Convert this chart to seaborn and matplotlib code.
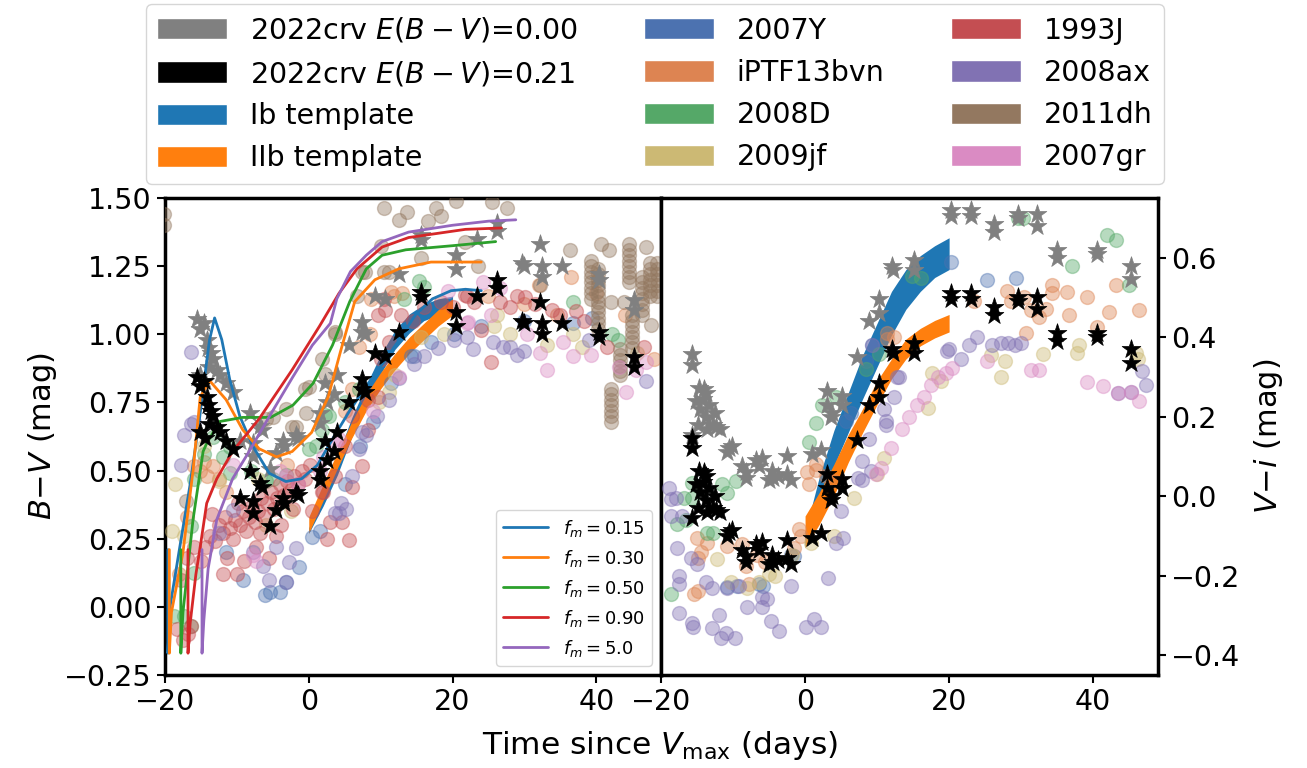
import numpy as np
import pandas as pd
import matplotlib
matplotlib.use('Agg')
import matplotlib.pyplot as plt
import seaborn as sns
from matplotlib.patches import Patch

sns.set_style('ticks', {'axes.edgecolor': 'black', 'text.color': 'black', 'axes.labelcolor': 'black',
                        'xtick.color': 'black', 'ytick.color': 'black'})
plt.rcParams['font.family'] = ['DejaVu Sans']
plt.rcParams['mathtext.fontset'] = 'dejavusans'

# ---- 2022crv colours (stars) ----
CRV21_BV = [(-15.6, 0.845), (-15.1, 0.81), (-14.6, 0.83), (-14.2, 0.77), (-14.0, 0.74), (-13.6, 0.72),
            (-13.3, 0.70), (-12.8, 0.66), (-15.1, 0.64), (-14.5, 0.62), (-13.9, 0.67), (-12.3, 0.64),
            (-11.5, 0.61), (-10.5, 0.58), (-8.2, 0.50), (-9.5, 0.40), (-7.8, 0.39), (-7.8, 0.345),
            (-6.8, 0.455), (-6.5, 0.44), (-5.4, 0.295), (-4.6, 0.355), (-3.6, 0.40), (-3.4, 0.38),
            (-1.8, 0.42), (-1.5, 0.41), (1.5, 0.50), (1.5, 0.465), (2.6, 0.54), (3.5, 0.57), (2.3, 0.61),
            (3.9, 0.64), (5.6, 0.75), (7.4, 0.80), (7.4, 0.835), (7.8, 0.79), (9.2, 0.93), (10.6, 0.92),
            (12.5, 1.01), (15.6, 1.155), (15.6, 1.135), (20.5, 1.08), (20.5, 1.03), (23.4, 1.14),
            (26.2, 1.20), (26.2, 1.17), (29.7, 1.05), (29.9, 1.04), (32.1, 1.12), (32.4, 1.04),
            (32.4, 1.00), (35.2, 1.04), (40.4, 1.01), (40.4, 0.99), (45.2, 0.915), (45.2, 0.88)]
CRV00_BV = [(-15.6, 1.055), (-15.1, 1.02), (-14.6, 1.04), (-14.2, 0.98), (-14.0, 0.95), (-13.6, 0.93),
            (-13.3, 0.91), (-12.8, 0.87), (-15.1, 0.85), (-14.5, 0.83), (-13.9, 0.88), (-12.3, 0.85),
            (-11.5, 0.82), (-10.5, 0.79), (-8.2, 0.71), (-9.5, 0.61), (-7.8, 0.60), (-7.8, 0.555),
            (-6.8, 0.665), (-6.5, 0.65), (-5.4, 0.505), (-4.6, 0.565), (-3.6, 0.61), (-3.4, 0.59),
            (-1.8, 0.63), (-1.5, 0.62), (1.5, 0.71), (1.5, 0.675), (2.6, 0.75), (3.5, 0.78), (2.3, 0.82),
            (3.9, 0.85), (5.6, 0.96), (7.4, 1.01), (7.4, 1.045), (7.8, 1.00), (9.2, 1.14), (10.6, 1.13),
            (12.5, 1.22), (15.6, 1.365), (15.6, 1.345), (20.5, 1.29), (20.5, 1.24), (23.4, 1.35),
            (26.2, 1.41), (26.2, 1.38), (29.7, 1.26), (29.9, 1.25), (32.1, 1.33), (32.4, 1.25),
            (32.4, 1.21), (35.2, 1.25), (40.4, 1.22), (40.4, 1.20), (45.2, 1.125), (45.2, 1.09)]
CRV21_VI = [(-15.7, 0.147), (-15.7, 0.12), (-14.7, 0.063), (-13.8, 0.05), (-15.1, 0.03), (-14.6, 0.01),
            (-14.2, 0.035), (-13.8, -0.01), (-13.3, 0.02), (-12.8, -0.03), (-12.3, -0.035), (-11.8, -0.04),
            (-14.9, -0.03), (-13.6, -0.04), (-12.5, 0.0), (-14.0, 0.06), (-15.7, -0.055), (-10.6, -0.09),
            (-10.2, -0.085), (-10.8, -0.10), (-8.8, -0.135), (-8.2, -0.15), (-8.2, -0.165), (-6.8, -0.12),
            (-6.0, -0.115), (-6.4, -0.135), (-4.6, -0.147), (-4.4, -0.165), (-5.0, -0.17), (-3.8, -0.16),
            (-2.5, -0.11), (-2.5, -0.155), (-2.0, -0.17), (1.0, -0.105), (2.2, -0.093), (3.1, 0.055),
            (3.1, 0.02), (3.8, 0.0), (3.6, -0.01), (5.1, 0.043), (5.1, 0.02), (7.2, 0.14), (8.9, 0.23),
            (10.3, 0.25), (10.3, 0.285), (12.1, 0.37), (12.2, 0.36), (15.1, 0.385), (15.1, 0.36),
            (20.3, 0.51), (20.3, 0.495), (23.0, 0.51), (23.0, 0.495), (26.3, 0.475), (26.3, 0.455),
            (29.5, 0.50), (29.5, 0.49), (32.2, 0.50), (32.2, 0.47), (35.0, 0.41), (35.0, 0.39),
            (40.6, 0.41), (40.6, 0.40), (45.3, 0.37), (45.3, 0.335)]
CRV00_VI = [(-15.7, 0.357), (-15.7, 0.33), (-14.7, 0.273), (-13.8, 0.26), (-15.1, 0.24), (-14.6, 0.22),
            (-14.2, 0.245), (-13.8, 0.20), (-13.3, 0.23), (-12.8, 0.18), (-12.3, 0.175), (-11.8, 0.17),
            (-14.9, 0.18), (-13.6, 0.17), (-12.5, 0.21), (-14.0, 0.27), (-15.7, 0.155), (-10.6, 0.12),
            (-10.2, 0.125), (-10.8, 0.11), (-8.8, 0.075), (-8.2, 0.06), (-8.2, 0.045), (-6.8, 0.09),
            (-6.0, 0.095), (-6.4, 0.075), (-4.6, 0.063), (-4.4, 0.045), (-5.0, 0.04), (-3.8, 0.05),
            (-2.5, 0.10), (-2.5, 0.055), (-2.0, 0.04), (1.0, 0.105), (2.2, 0.117), (3.1, 0.265),
            (3.1, 0.23), (3.8, 0.21), (3.6, 0.20), (5.1, 0.253), (5.1, 0.23), (7.2, 0.35), (8.9, 0.44),
            (10.3, 0.46), (10.3, 0.495), (12.1, 0.58), (12.2, 0.57), (15.1, 0.595), (15.1, 0.57),
            (20.3, 0.72), (20.3, 0.705), (23.0, 0.72), (23.0, 0.705), (26.3, 0.685), (26.3, 0.665),
            (29.5, 0.71), (29.5, 0.70), (32.2, 0.71), (32.2, 0.68), (35.0, 0.62), (35.0, 0.60),
            (40.6, 0.62), (40.6, 0.61), (45.3, 0.58), (45.3, 0.545)]

# ---- comparison SNe, B-V ----
SN2007Y_BV = [(-11.5, 0.20), (-9.1, 0.10), (-6.1, 0.045), (-5.4, 0.055), (-4.0, 0.055), (-3.2, 0.09),
              (-1.3, 0.148), (0.5, 0.255), (1.5, 0.28), (5.0, 0.45), (7.1, 0.59), (9.0, 0.68), (11.5, 0.82),
              (14.2, 0.92), (14.7, 0.92), (17.0, 0.97), (20.2, 1.0), (24.0, 1.03), (30.0, 1.05),
              (36.7, 1.04), (39.4, 1.06)]
IPTF13BVN_BV = [(-18.0, 0.12), (-17.0, 0.33), (-16.0, 0.515), (-15.2, 0.50), (-14.2, 0.48), (-14.6, 0.53),
                (-13.3, 0.515), (-12.5, 0.47), (-11.5, 0.42), (-3.0, 0.52), (5.0, 0.72), (6.0, 0.80),
                (7.0, 0.955), (8.5, 1.0), (8.7, 1.13), (11.5, 1.155), (11.9, 1.14), (13.0, 1.15),
                (25.0, 1.14), (30.0, 1.11), (32.0, 1.18), (34.5, 1.07), (36.5, 1.21), (40.0, 1.15),
                (44.0, 1.07), (48.0, 0.91)]
SN2008D_BV = [(-18.8, -0.035), (-17.4, -0.035), (-16.4, -0.07), (-16.4, 0.295), (-16.0, 0.125), (-16.0, 0.47),
              (-14.6, 0.56), (-13.3, 0.625), (-12.0, 0.55), (-10.9, 0.585), (-10.9, 0.49), (-8.0, 0.50),
              (-6.0, 0.46), (-5.0, 0.47), (-3.2, 0.485), (0.1, 0.58), (1.0, 0.59), (1.9, 0.65), (2.3, 0.705),
              (2.8, 0.70), (5.0, 0.75), (7.0, 0.80), (13.3, 1.13), (15.4, 1.195), (16.0, 1.175),
              (36.7, 1.12), (42.2, 1.0), (43.0, 0.98)]
SN2009JF_BV = [(-19.0, 0.28), (-18.6, 0.45), (-17.4, 0.26), (-14.6, 0.59), (-12.5, 0.46), (-7.0, 0.47),
               (-6.0, 0.30), (-2.5, 0.35), (9.8, 0.75), (11.2, 0.79), (12.0, 0.85), (15.6, 0.99), (18.8, 1.0),
               (25.7, 1.03), (26.2, 1.07), (28.0, 1.0), (33.1, 0.96), (36.7, 1.0), (38.0, 0.955), (45.6, 0.93)]
SN1993J_BV = [(-18.3, -0.08), (-17.5, -0.12), (-16.8, -0.10), (-16.4, -0.07), (-17.8, 0.10), (-17.0, 0.18),
              (-16.0, 0.22), (-15.0, 0.17), (-14.3, 0.22), (-13.8, 0.26), (-13.0, 0.24), (-12.5, 0.30),
              (-12.0, 0.27), (-11.6, 0.33), (-11.0, 0.29), (-10.5, 0.25), (-10.2, 0.32), (-9.6, 0.30),
              (-9.2, 0.35), (-8.7, 0.28), (-8.3, 0.33), (-7.9, 0.37), (-7.5, 0.31), (-7.0, 0.35),
              (-6.6, 0.40), (-6.2, 0.33), (-5.8, 0.38), (-5.3, 0.42), (-4.8, 0.36), (-4.4, 0.40),
              (-4.0, 0.45), (-3.5, 0.41), (-3.0, 0.46), (-2.5, 0.43), (-2.0, 0.48), (-1.5, 0.45),
              (-1.0, 0.50), (-0.5, 0.47), (0.2, 0.52), (-12.0, 0.12), (-10.0, 0.12), (-9.0, 0.17),
              (-7.3, 0.22), (-5.5, 0.18), (-4.5, 0.26), (-11.4, 0.18), (-13.5, 0.34), (-9.8, 0.38),
              (-6.8, 0.27), (-3.8, 0.30), (-2.2, 0.36), (0.5, 0.35), (2.5, 0.25), (2.0, 0.42), (3.0, 0.31),
              (5.6, 0.245), (4.6, 0.31), (1.9, 0.42), (3.7, 0.48), (5.1, 0.59), (6.0, 0.70), (6.0, 0.44),
              (7.4, 0.515), (8.3, 0.76), (8.3, 0.65), (9.7, 0.77), (10.1, 0.91), (11.1, 0.97), (10.6, 1.09),
              (12.9, 1.07), (14.5, 1.05), (16.0, 1.10), (18.4, 1.12), (20.0, 1.10), (22.0, 1.14),
              (23.0, 1.12), (21.8, 1.145), (26.6, 1.12), (28.0, 1.10), (29.0, 1.14), (30.1, 1.135),
              (31.5, 1.11), (33.8, 1.09), (34.9, 1.07), (37.2, 1.085), (38.3, 1.05), (41.5, 0.955),
              (46.7, 0.955), (23.9, 1.015), (25.3, 0.90), (10.5, 1.13), (9.7, 1.07)]
SN2008AX_BV = [(-17.8, 0.52), (-16.4, 0.935), (-16.4, 0.67), (-16.0, 0.68), (-17.4, 0.63), (-12.5, 0.27),
               (-10.5, 0.355), (-7.8, 0.20), (-6.4, 0.15), (-5.6, 0.10), (-4.6, 0.22), (-3.2, 0.09),
               (-2.7, 0.165), (-1.8, 0.215), (3.7, 0.345), (4.2, 0.345), (4.5, 0.38), (5.2, 0.36),
               (6.0, 0.48), (7.0, 0.58), (7.4, 0.64), (8.0, 0.63), (9.5, 0.70), (11.1, 0.76), (12.5, 0.84),
               (14.7, 0.89), (16.0, 0.92), (18.0, 0.95), (20.2, 0.98), (22.0, 0.99), (22.9, 0.945),
               (25.6, 0.97), (27.0, 0.955), (28.0, 0.955), (28.9, 0.925), (30.0, 0.94), (39.0, 0.98),
               (46.9, 0.83)]
SN2011DH_BV = [(-20.2, 1.44), (-20.2, 1.40), (-17.1, 0.39), (-6.0, 0.69), (-5.0, 0.695), (-3.2, 0.725),
               (-2.3, 0.66), (-1.8, 0.66), (-0.5, 0.80), (-0.4, 0.71), (0.1, 0.805), (1.9, 0.91), (2.3, 0.855),
               (3.7, 1.0), (3.7, 1.01), (6.7, 1.14), (7.4, 1.23), (7.8, 1.23), (10.1, 1.325), (10.5, 1.23),
               (10.5, 1.465), (11.1, 1.23), (12.6, 1.42), (13.6, 1.45), (15.6, 1.28), (16.6, 1.415),
               (17.7, 1.465), (18.4, 1.435), (20.5, 1.49), (21.8, 1.34), (23.6, 1.25), (25.5, 1.485),
               (27.6, 1.465), (32.1, 1.18), (36.3, 1.31), (40.7, 1.33), (41.8, 1.31), (42.0, 1.12),
               (43.8, 1.12), (46.9, 1.32), (47.6, 1.035),
               (39.3, 1.27), (39.3, 1.25), (39.3, 1.23), (39.3, 1.21), (39.3, 1.19), (39.3, 1.17),
               (39.3, 1.15), (39.3, 1.13),
               (40.3, 1.24), (40.3, 1.22), (40.3, 1.20), (40.3, 1.18), (40.3, 1.16), (40.3, 1.14),
               (40.3, 1.12), (40.3, 1.10), (40.3, 1.08), (40.3, 1.06), (40.3, 1.04), (40.3, 1.02),
               (44.6, 1.33), (44.6, 1.31), (44.6, 1.29), (44.6, 1.27), (44.6, 1.25), (44.6, 1.23),
               (44.6, 1.21), (44.6, 1.19),
               (44.9, 1.07), (44.9, 1.05), (44.9, 1.03), (44.9, 1.01), (44.9, 0.99), (44.9, 0.97),
               (44.9, 0.95),
               (42.1, 0.80), (42.1, 0.78), (42.1, 0.76), (42.1, 0.74), (42.1, 0.72), (42.1, 0.70),
               (42.1, 0.68),
               (43.3, 0.945), (43.3, 0.925), (43.3, 0.905), (43.3, 0.885), (43.3, 0.865), (43.3, 0.85),
               (46.3, 1.21), (46.3, 1.19), (46.3, 1.17), (46.3, 1.15), (46.3, 1.13), (46.3, 1.11),
               (46.3, 1.09), (46.3, 1.07),
               (47.5, 1.26), (47.5, 1.24), (47.5, 1.22), (47.5, 1.20), (47.5, 1.18), (47.5, 1.16),
               (47.5, 1.14),
               (48.4, 1.26), (48.4, 1.24), (48.4, 1.22), (48.4, 1.20), (48.4, 1.18), (48.4, 1.16),
               (48.4, 1.14)]
SN2007GR_BV = [(-10.5, 0.52), (-7.8, 0.19), (-7.3, 0.17), (-4.0, 0.50), (-3.2, 0.48), (-1.5, 0.45),
               (1.5, 0.50), (2.0, 0.55), (3.8, 0.60), (4.2, 0.615), (9.0, 0.72), (12.5, 0.845), (19.3, 1.16),
               (22.0, 1.04), (22.2, 1.045), (24.2, 1.19), (25.3, 1.07), (26.6, 1.17), (30.3, 1.0),
               (32.1, 0.93), (33.1, 0.87), (35.3, 0.97), (36.7, 0.92), (39.3, 0.925), (43.1, 0.88),
               (44.1, 0.79), (45.5, 0.87), (46.9, 0.90)]

# ---- comparison SNe, V-i ----
SN2007Y_VI = [(-10.8, -0.228), (-9.5, -0.225), (-6.4, -0.22), (-5.8, -0.225), (-2.0, -0.147), (-1.5, -0.15),
              (5.7, 0.19), (6.4, 0.21), (8.5, 0.34), (9.3, 0.38), (20.3, 0.588), (25.3, 0.543), (29.3, 0.55)]
IPTF13BVN_VI = [(-15.4, -0.245), (-14.8, -0.238), (-15.0, -0.105), (-14.5, -0.14), (-14.8, -0.155),
                (-13.6, -0.118), (-10.8, -0.125), (-8.8, -0.12), (-8.2, -0.177), (-7.8, -0.222),
                (-6.7, -0.147), (-5.5, -0.165), (-1.5, -0.13), (-0.8, -0.083), (-0.6, -0.10), (0.3, 0.06),
                (0.6, 0.03), (1.5, 0.08), (1.5, 0.065), (2.9, 0.05), (4.0, 0.038), (11.4, 0.41), (12.3, 0.40),
                (11.4, 0.395), (23.5, 0.49), (28.0, 0.517), (28.6, 0.492), (30.4, 0.50), (30.7, 0.41),
                (31.4, 0.467), (32.5, 0.45), (33.5, 0.47), (34.3, 0.53), (34.3, 0.51), (36.4, 0.513),
                (36.7, 0.455), (39.2, 0.50), (40.6, 0.425), (42.2, 0.462), (43.2, 0.53), (46.4, 0.467)]
SN2008D_VI = [(-18.6, -0.245), (-17.8, -0.07), (-16.8, -0.005), (-16.5, -0.06), (-15.7, 0.033),
              (-15.7, -0.005), (-13.6, -0.093), (-12.8, -0.093), (-11.5, 0.03), (-10.8, 0.008), (-9.6, 0.038),
              (0.6, 0.135), (1.5, 0.185), (2.4, 0.23), (4.3, 0.25), (8.5, 0.32), (10.3, 0.357), (14.9, 0.555),
              (16.1, 0.55), (29.5, 0.70), (30.2, 0.70), (37.1, 0.58), (41.9, 0.657), (43.2, 0.644), (45.0, 0.53)]
SN2009JF_VI = [(-12.2, -0.157), (-10.3, -0.215), (-8.0, -0.232), (-6.4, -0.215), (-5.0, -0.195), (-4.2, -0.2),
               (-1.8, -0.147), (0.8, -0.118), (4.0, -0.10), (6.8, -0.005), (10.0, 0.055), (11.0, 0.097),
               (17.0, 0.222), (17.6, 0.31), (18.9, 0.29), (25.8, 0.354), (27.2, 0.30), (27.8, 0.34),
               (33.0, 0.358), (37.8, 0.36), (38.0, 0.38), (46.0, 0.36), (46.2, 0.345)]
SN2008AX_VI = [(-18.9, 0.02), (-18.6, -0.008), (-17.9, -0.005), (-18.6, -0.05), (-17.1, -0.05), (-17.8, -0.13),
               (-15.9, -0.155), (-15.0, -0.17), (-17.5, -0.20), (-17.5, -0.22), (-13.8, -0.215), (-12.9, -0.23),
               (-10.8, -0.23), (-9.2, -0.227), (-17.5, -0.295), (-15.7, -0.32), (-15.6, -0.33), (-11.9, -0.298),
               (-12.9, -0.333), (-11.7, -0.356), (-11.0, -0.345), (-9.7, -0.356), (-8.0, -0.278), (-6.0, -0.253),
               (-6.0, -0.28), (-5.3, -0.26), (-4.7, -0.313), (-3.6, -0.34), (-2.0, -0.227), (0.1, -0.328),
               (1.3, -0.31), (2.2, -0.33), (3.2, -0.205), (4.3, -0.118), (5.2, -0.105), (5.0, -0.037),
               (7.3, 0.045), (7.9, 0.04), (9.1, 0.063), (7.9, 0.088), (8.9, 0.143), (11.2, 0.18), (11.2, 0.19),
               (11.0, 0.22), (12.3, 0.25), (12.8, 0.30), (13.0, 0.30), (9.3, 0.38), (19.7, 0.365), (20.0, 0.37),
               (21.7, 0.345), (22.8, 0.38), (23.9, 0.40), (26.0, 0.38), (27.2, 0.385), (28.2, 0.385),
               (29.2, 0.38), (30.0, 0.385), (43.4, 0.26), (45.3, 0.262), (46.8, 0.315), (47.4, 0.28)]
SN2007GR_VI = [(9.9, 0.055), (10.5, 0.07), (12.0, 0.12), (13.5, 0.17), (14.4, 0.20), (15.6, 0.23), (16.5, 0.25),
               (17.5, 0.28), (18.4, 0.30), (19.6, 0.31), (20.4, 0.323), (25.3, 0.34), (31.4, 0.318),
               (32.5, 0.318), (39.2, 0.288), (41.4, 0.278), (43.4, 0.26), (45.3, 0.262), (46.4, 0.24)]

# ---- templates (band edges) ----
TPL_T = [0, 2, 4, 6, 8, 10, 12, 14, 16, 18, 20]
IB_BV_LO = [0.27, 0.37, 0.485, 0.625, 0.745, 0.855, 0.945, 1.005, 1.05, 1.07, 1.08]
IB_BV_HI = [0.29, 0.43, 0.555, 0.695, 0.815, 0.925, 1.015, 1.075, 1.11, 1.13, 1.14]
IIB_BV_LO = [0.27, 0.39, 0.51, 0.62, 0.72, 0.80, 0.87, 0.93, 0.98, 1.03, 1.07]
IIB_BV_HI = [0.33, 0.45, 0.57, 0.68, 0.78, 0.86, 0.93, 0.99, 1.04, 1.09, 1.13]
IB_VI_LO = [-0.13, -0.01, 0.075, 0.16, 0.245, 0.325, 0.405, 0.47, 0.515, 0.55, 0.57]
IB_VI_HI = [-0.09, 0.05, 0.165, 0.26, 0.355, 0.435, 0.515, 0.57, 0.605, 0.63, 0.65]
IIB_VI_LO = [-0.13, -0.07, 0.0, 0.085, 0.16, 0.23, 0.295, 0.345, 0.378, 0.398, 0.413]
IIB_VI_HI = [-0.05, 0.01, 0.08, 0.155, 0.22, 0.29, 0.345, 0.395, 0.422, 0.442, 0.457]

# ---- model B-V curves for different f_m ----
FM_015 = [(-19.6, 0.21), (-19.6, -0.17), (-19.3, 0.0), (-18.0, 0.21), (-16.5, 0.45), (-15.2, 0.69),
          (-14.7, 0.80), (-13.8, 0.98), (-13.1, 1.06), (-12.1, 0.98), (-11.0, 0.835), (-9.6, 0.70),
          (-7.8, 0.59), (-5.5, 0.49), (-3.2, 0.46), (-1.0, 0.47), (1.2, 0.52), (3.4, 0.62), (5.7, 0.72),
          (8.0, 0.81), (10.2, 0.89), (12.6, 0.98), (14.8, 1.07), (17.2, 1.13), (19.8, 1.16), (21.8, 1.165),
          (24.0, 1.16)]
FM_030 = [(-19.4, 0.21), (-19.4, -0.17), (-19.1, -0.02), (-17.5, 0.20), (-16.1, 0.50), (-15.1, 0.77),
          (-13.8, 0.83), (-11.5, 0.76), (-9.2, 0.65), (-6.9, 0.58), (-4.5, 0.55), (-2.3, 0.57), (0.4, 0.64),
          (2.7, 0.77), (4.5, 0.945), (6.4, 1.12), (9.2, 1.20), (12.5, 1.24), (17.0, 1.265), (24.0, 1.265)]
FM_050 = [(-17.8, 0.21), (-17.8, -0.17), (-17.5, -0.02), (-16.8, 0.15), (-16.1, 0.32), (-14.7, 0.57),
          (-14.2, 0.60), (-12.4, 0.68), (-9.2, 0.695), (-5.3, 0.695), (-2.2, 0.74), (0.6, 0.82), (3.3, 0.96),
          (5.7, 1.12), (8.0, 1.24), (10.2, 1.29), (13.5, 1.31), (20.0, 1.325), (26.0, 1.34)]
FM_090 = [(-16.8, 0.21), (-16.8, -0.17), (-16.5, -0.06), (-15.7, 0.12), (-15.1, 0.22), (-14.2, 0.38),
          (-12.8, 0.47), (-10.6, 0.57), (-6.9, 0.69), (-2.3, 0.87), (1.5, 1.03), (4.2, 1.15), (6.7, 1.24),
          (10.2, 1.32), (13.9, 1.355), (21.8, 1.385), (26.8, 1.39)]
FM_5 = [(-14.85, 0.21), (-14.85, -0.17), (-14.6, -0.05), (-14.0, 0.14), (-12.8, 0.32), (-10.6, 0.47),
        (-8.3, 0.57), (-5.9, 0.68), (-2.3, 0.84), (0.5, 0.96), (3.0, 1.04), (3.9, 1.13), (5.8, 1.23),
        (8.0, 1.29), (10.2, 1.34), (13.9, 1.375), (20.0, 1.40), (25.0, 1.415), (28.8, 1.42)]

FM_LABELS = [r'$f_m=0.15$', r'$f_m=0.30$', r'$f_m=0.50$', r'$f_m=0.90$', r'$f_m=5.0$']
FM_COLORS = ['tab:blue', 'tab:orange', 'tab:green', 'tab:red', 'tab:purple']

deep = sns.color_palette('deep')
SN_NAMES = ['2007Y', 'iPTF13bvn', '2008D', '2009jf', '1993J', '2008ax', '2011dh', '2007gr']
SN_COLORS = [deep[0], deep[1], deep[2], deep[8], deep[3], deep[4], deep[5], deep[6]]
SN_BV = [SN2007Y_BV, IPTF13BVN_BV, SN2008D_BV, SN2009JF_BV, SN1993J_BV, SN2008AX_BV, SN2011DH_BV, SN2007GR_BV]
SN_VI = [SN2007Y_VI, IPTF13BVN_VI, SN2008D_VI, SN2009JF_VI, None, SN2008AX_VI, None, SN2007GR_VI]


def to_df(points):
    return pd.DataFrame(points, columns=['t', 'c'])


def dots(ax, points, color):
    sns.scatterplot(data=to_df(points), x='t', y='c', color=color, alpha=0.42, s=100,
                    edgecolor=color, linewidth=1, ax=ax, legend=False, zorder=3)


def stars(ax, points, color, z):
    sns.scatterplot(data=to_df(points), x='t', y='c', color=color, marker='*', s=200,
                    edgecolor=color, linewidth=0.5, ax=ax, legend=False, zorder=z)


fig = plt.figure(figsize=(13.07, 7.68), dpi=100)
ax1 = fig.add_axes([165 / 1307, 93 / 768, 496 / 1307, 477 / 768])
ax2 = fig.add_axes([661 / 1307, 93 / 768, 497 / 1307, 477 / 768])

# templates
ax1.fill_between(TPL_T, IB_BV_LO, IB_BV_HI, color='tab:blue', lw=0, zorder=2)
ax1.fill_between(TPL_T, IIB_BV_LO, IIB_BV_HI, color='tab:orange', lw=0, zorder=2)
ax2.fill_between(TPL_T, IB_VI_LO, IB_VI_HI, color='tab:blue', lw=0, zorder=2)
ax2.fill_between(TPL_T, IIB_VI_LO, IIB_VI_HI, color='tab:orange', lw=0, zorder=2)

# comparison SNe
for bv, vi, col in zip(SN_BV, SN_VI, SN_COLORS):
    dots(ax1, bv, col)
    if vi is not None:
        dots(ax2, vi, col)

# 2022crv
stars(ax1, CRV00_BV, 'gray', 4)
stars(ax2, CRV00_VI, 'gray', 4)

# models
for curve, lab, col in zip([FM_015, FM_030, FM_050, FM_090, FM_5], FM_LABELS, FM_COLORS):
    sns.lineplot(data=to_df(curve), x='t', y='c', sort=False, estimator=None, color=col,
                 lw=2, ax=ax1, label=lab, zorder=5)

stars(ax1, CRV21_BV, 'black', 6)
stars(ax2, CRV21_VI, 'black', 6)

ax1.legend(loc='lower right', fontsize=13, framealpha=0.8, borderaxespad=0.5, handlelength=2.5)

ax1.set_xlim(-20, 49)
ax1.set_ylim(-0.25, 1.5)
ax1.set_xticks([-20, 0, 20, 40])
ax1.set_yticks([-0.25, 0.0, 0.25, 0.5, 0.75, 1.0, 1.25, 1.5])
ax1.set_xlabel('')
ax1.set_ylabel(r'$B$$-$$V$ (mag)', fontsize=22)

ax2.set_xlim(-20, 49)
ax2.set_ylim(-0.45, 0.75)
ax2.set_xticks([-20, 0, 20, 40])
ax2.set_yticks([-0.4, -0.2, 0.0, 0.2, 0.4, 0.6])
ax2.yaxis.tick_right()
ax2.yaxis.set_label_position('right')
ax2.set_xlabel('')
ax2.set_ylabel(r'$V$$-$$i$ (mag)', fontsize=22, labelpad=8)

for ax in (ax1, ax2):
    for sp in ax.spines.values():
        sp.set_linewidth(2.5)
        sp.set_color('black')
    ax.tick_params(labelsize=20.5, width=1.5, length=6, direction='out', colors='black')

fig.text(660 / 1307, 1 - 745 / 768, r'Time since $V_{\rm max}$ (days)', ha='center', va='center', fontsize=22.5)

# top legend
handles = [Patch(facecolor='gray', label=r'2022crv $E(B-V)$=0.00'),
           Patch(facecolor='black', label=r'2022crv $E(B-V)$=0.21'),
           Patch(facecolor='tab:blue', label='Ib template'),
           Patch(facecolor='tab:orange', label='IIb template')]
handles += [Patch(facecolor=c, label=n) for n, c in zip(SN_NAMES, SN_COLORS)]
fig.legend(handles=handles, loc='upper center', bbox_to_anchor=(655 / 1307, 0.998), ncol=3,
           fontsize=20.5, handlelength=2.45, handleheight=0.77, columnspacing=2.35, borderaxespad=0.1)

fig.savefig('out.png', dpi=100)
